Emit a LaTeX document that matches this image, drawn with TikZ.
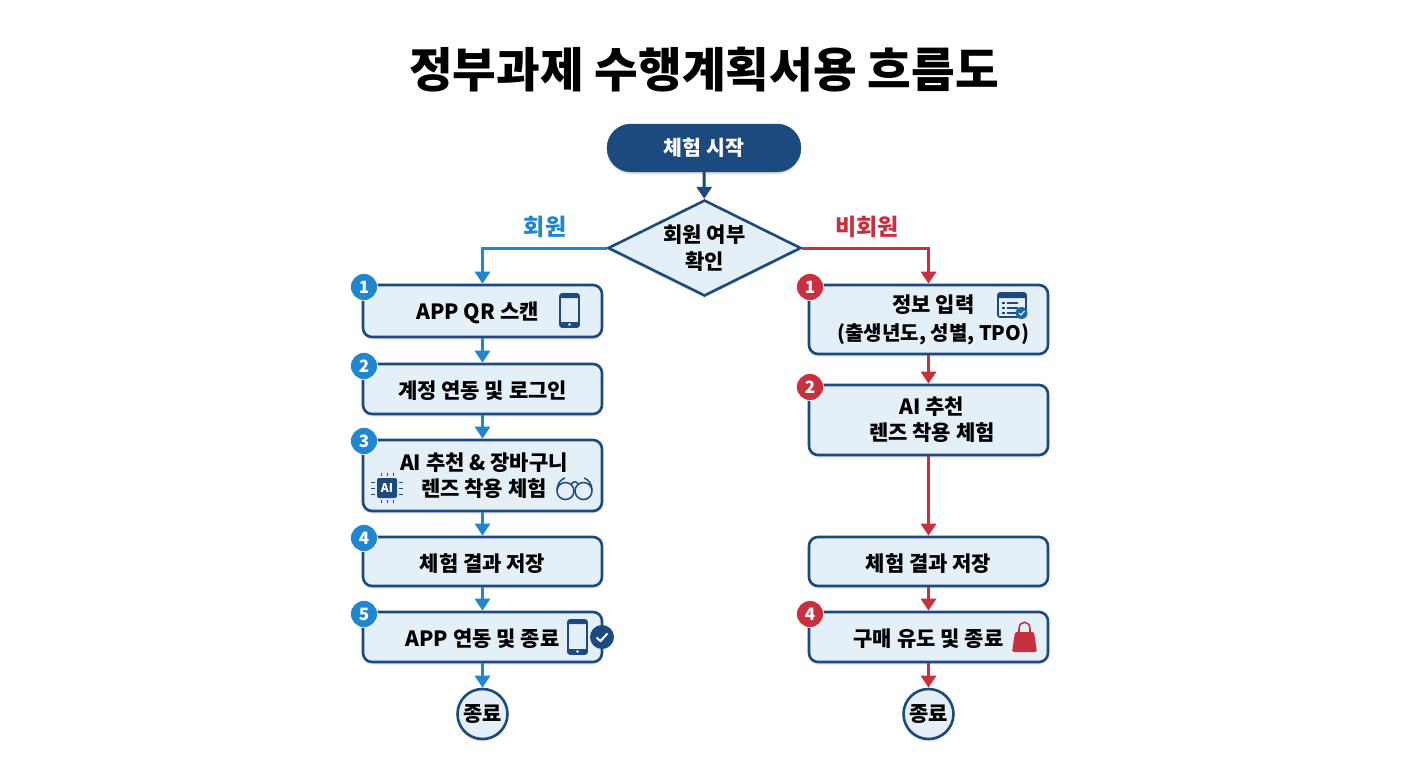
\documentclass[tikz,border=0pt]{standalone}
\usepackage{fontspec}
\setmainfont{Noto Sans CJK KR}
\usetikzlibrary{arrows.meta,shapes.geometric,shadows}
\definecolor{navy}{HTML}{1D4A7E}
\definecolor{member}{HTML}{1F86CF}
\definecolor{guest}{HTML}{C8303F}
\definecolor{pale}{HTML}{E4EFF8}
\tikzset{
softshadow/.style={drop shadow={opacity=.2,shadow xshift=0pt,shadow yshift=-2.5pt}},
stepbox/.style={draw=navy,fill=pale,line width=2.6pt,rounded corners=9pt,minimum width=239pt,align=center,
  font=\fontsize{21}{26}\selectfont\bfseries,execute at begin node={\rule{0pt}{21.5pt}},softshadow},
startbox/.style={draw=navy,fill=navy,text=white,rounded corners=24pt,minimum width=194pt,minimum height=48pt,
  font=\fontsize{20.5}{26}\selectfont\bfseries,softshadow},
decidebox/.style={diamond,aspect=2,draw=navy,fill=pale,line width=2.6pt,inner sep=0pt,minimum width=193pt,minimum height=96pt,
  align=center,font=\fontsize{21}{27}\selectfont\bfseries,execute at begin node={\rule{0pt}{25pt}},softshadow},
endbox/.style={circle,draw=navy,fill=pale,line width=2.6pt,inner sep=0pt,minimum size=50pt,
  font=\fontsize{21}{26}\selectfont\bfseries,softshadow},
badge/.style={circle,fill=#1,draw=white,line width=.6pt,text=white,inner sep=0pt,minimum size=27pt,
  font=\fontsize{17}{17}\selectfont\bfseries},
branch/.style={text=#1,font=\fontsize{23}{26}\selectfont\bfseries},
flow/.style={draw=#1,line width=3pt,-{Triangle[length=12pt,width=15pt]}},
}
\newcommand{\phoneicon}[4]{% left, top, width, height
  \draw[navy,line width=1.6pt,fill=pale,rounded corners=2pt] (#1,#2) rectangle ++(#3,#4);
  \fill[navy,rounded corners=1.5pt] (#1,#2) rectangle ++(#3,4);
  \fill[navy,rounded corners=1.5pt] (#1,#2+#4-5) rectangle ++(#3,5);
  \fill[white] (#1+#3/2,#2+#4-2.5) circle (1.3);
}
\begin{document}
\begin{tikzpicture}[x=1pt,y=-1pt]
\useasboundingbox (0,0) rectangle (1408,768);
\node[font=\fontsize{47.5}{50}\selectfont\bfseries] (title) at (704,70) {정부과제 수행계획서용 흐름도};
\node[startbox] (start) at (704,148) {체험 시작};
\node[decidebox] (decide) at (704.5,248) {회원 여부\\확인};
\node[branch=member] (yes) at (545,227) {회원};
\node[branch=guest] (no) at (867,227) {비회원};
% member side
\node[stepbox,minimum height=52pt] (lbox1) at (482.5,311) {\hspace*{-10pt}APP QR 스캔};
\node[stepbox,minimum height=50pt] (lbox2) at (482.5,389) {계정 연동 및 로그인};
\node[stepbox,minimum height=71pt] (lbox3) at (482.5,475.5) {\hspace*{3pt}AI 추천 \& 장바구니\\\hspace*{3pt}렌즈 착용 체험};
\node[stepbox,minimum height=49pt] (lbox4) at (482.5,561.5) {체험 결과 저장};
\node[stepbox,minimum height=50pt] (lbox5) at (482.5,637) {APP 연동 및 종료};
\node[endbox] (lend) at (482.5,714) {종료};
% guest side
\node[stepbox,minimum height=69pt] (rbox1) at (928.5,319.5) {\hspace*{10pt}정보 입력\\[2pt]\hspace*{10pt}\fontsize{20}{26}\selectfont(출생년도, 성별, TPO)};
\node[stepbox,minimum height=70pt] (rbox2) at (928.5,420) {\hspace*{7pt}AI 추천\\\hspace*{7pt}렌즈 착용 체험};
\node[stepbox,minimum height=49pt] (rbox3) at (928.5,561.5) {체험 결과 저장};
\node[stepbox,minimum height=50pt] (rbox4) at (928.5,637) {구매 유도 및 종료};
\node[endbox] (rend) at (928.5,714) {종료};
% connectors
\draw[flow=navy] (start) -- (decide);
\draw[flow=member] (decide.west) -| (lbox1.north);
\draw[flow=guest] (decide.east) -| (rbox1.north);
\foreach \a/\b in {lbox1/lbox2,lbox2/lbox3,lbox3/lbox4,lbox4/lbox5,lbox5/lend}
  \draw[flow=member] (\a) -- (\b);
\foreach \a/\b in {rbox1/rbox2,rbox2/rbox3,rbox3/rbox4,rbox4/rend}
  \draw[flow=guest] (\a) -- (\b);
% badges
\node[badge=member] (lnum1) at (364,287) {1};
\node[badge=member] (lnum2) at (364,366) {2};
\node[badge=member] (lnum3) at (364,441) {3};
\node[badge=member] (lnum4) at (364,538) {4};
\node[badge=member] (lnum5) at (364,614) {5};
\node[badge=guest] (rnum1) at (810,287) {1};
\node[badge=guest] (rnum2) at (810,387) {2};
\node[badge=guest] (rnum4) at (810,614) {4};
% phones
\phoneicon{560}{294}{19}{33}
\phoneicon{568}{620}{19}{34}
\fill[navy] (602,637) circle (12);
\draw[white,line width=2pt] (596.5,637.5) -- (600.5,641) -- (607.5,633.5);
% chip
\fill[navy,rounded corners=2pt] (377,478) rectangle (397,498);
\node[text=white,font=\fontsize{12}{12}\selectfont\bfseries] (chip) at (387,488) {AI};
\foreach \p in {381,387,393} {
  \draw[navy,line width=1pt] (\p,473) -- (\p,476);
  \draw[navy,line width=1pt] (\p,500) -- (\p,503);
}
\foreach \p in {482,488,494} {
  \draw[navy,line width=1pt] (371,\p) -- (375,\p);
  \draw[navy,line width=1pt] (399,\p) -- (403,\p);
}
% glasses
\draw[navy,line width=1.5pt] (565.5,491) circle (8.5);
\draw[navy,line width=1.5pt] (583.5,491) circle (8.5);
\draw[navy,line width=1.5pt] (571,484) .. controls (574,481) and (576,481) .. (578,484);
\draw[navy,line width=1.5pt] (557,490) .. controls (557,484) and (561,479) .. (565,478);
\draw[navy,line width=1.5pt] (592,490) .. controls (592,484) and (588,479) .. (584,478);
% form
\draw[navy,line width=1.6pt,fill=pale,rounded corners=2pt] (998,293) rectangle (1026,317);
\fill[navy,rounded corners=1pt] (998,293) rectangle (1026,298);
\foreach \p in {302,307,312} {
  \fill[navy] (1002,\p) rectangle (1005,\p+2);
  \fill[navy] (1007,\p) rectangle (1018,\p+2);
}
\fill[member!50!navy] (1021.5,313) circle (6);
\draw[white,line width=1pt] (1019,313) -- (1021,315) -- (1024.5,311);
% bag
\fill[guest,rounded corners=1.5pt] (1015,632) -- (1034,632) -- (1037,652) -- (1012,652) -- cycle;
\draw[guest,line width=1.6pt] (1019,636) -- (1019,629) .. controls (1019,620) and (1030,620) .. (1030,629) -- (1030,636);
\end{tikzpicture}
\end{document}
